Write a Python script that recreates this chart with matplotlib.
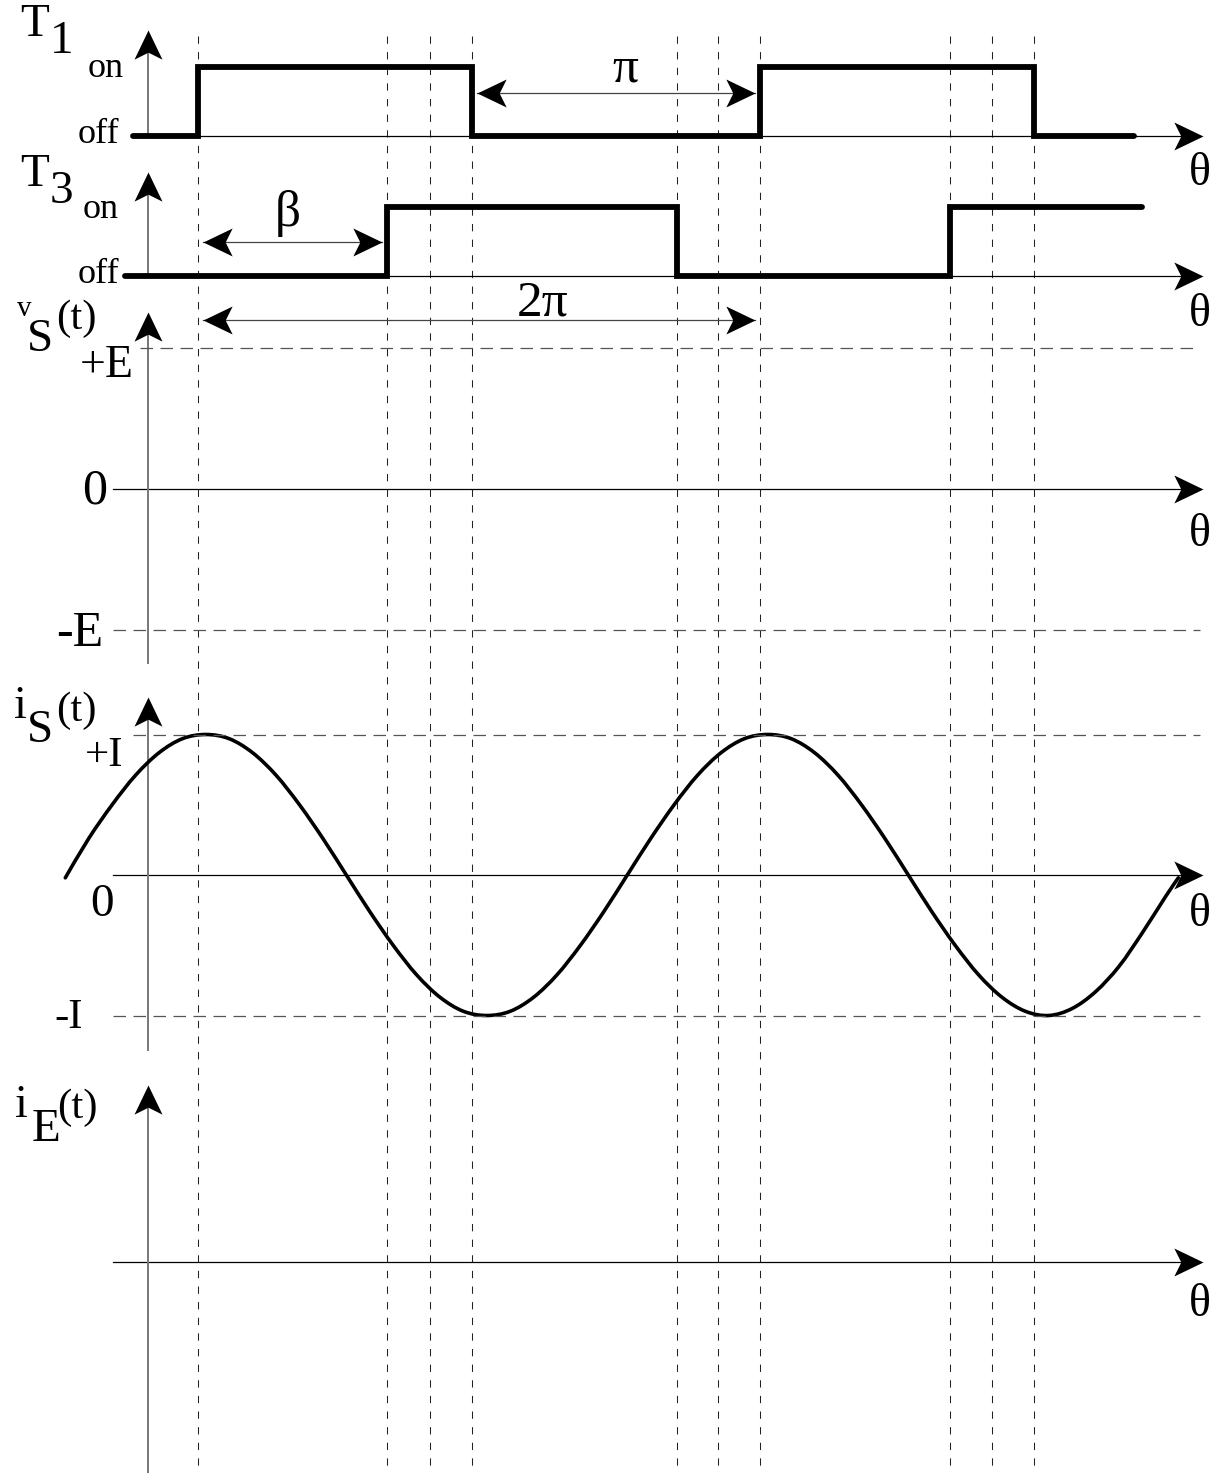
import numpy as np
import matplotlib
matplotlib.use("Agg")
import matplotlib.pyplot as plt
from matplotlib.path import Path
from matplotlib.patches import PathPatch
from matplotlib.markers import MarkerStyle
from matplotlib.transforms import Affine2D

plt.rcParams['font.family'] = ['Liberation Serif', 'DejaVu Serif']

W, H = 1228, 1473
X0 = 198                  # pixel column of theta = 0
PX_DEG = 562 / 360.0      # one period (2 pi) is 562 px wide

# ---- data (angles in degrees) ----
t1_theta = [-41.6, 0, 0, 175.5, 175.5, 360, 360, 535.5, 535.5, 599.6]
t1_state = [0, 0, 1, 1, 0, 0, 1, 1, 0, 0]
t3_theta = [-46.8, 121, 121, 306.8, 306.8, 481.7, 481.7, 604.7]
t3_state = [0, 0, 1, 1, 0, 0, 1, 1]
guides = [0, 121, 148.5, 175.5, 306.8, 333.0, 360, 481.7, 508.6, 535.5]
beta = 121

is_theta = [-85, -70, -55, -40, -25, -10, 5, 20, 35, 50, 65, 80, 95, 110,
            125, 140, 155, 170, 185, 200, 215, 230, 245, 260, 275, 290, 305,
            320, 335, 350, 365, 380, 395, 410, 425, 440, 455, 470, 485, 500,
            515, 530, 545, 560, 575, 590, 605, 620, 628]
is_value = [-0.02, 0.26, 0.50, 0.71, 0.87, 0.97, 1.00, 0.97, 0.87, 0.71, 0.50,
            0.26, 0.00, -0.26, -0.50, -0.71, -0.87, -0.97, -1.00, -0.97, -0.87,
            -0.71, -0.50, -0.26, 0.00, 0.26, 0.50, 0.71, 0.87, 0.97, 1.00, 0.97,
            0.87, 0.71, 0.50, 0.26, 0.00, -0.26, -0.50, -0.71, -0.87, -0.97,
            -1.00, -0.95, -0.83, -0.65, -0.41, -0.15, -0.02]


def deg(px):
    return (px - X0) / PX_DEG


XLIM = (deg(0), deg(W))

fig = plt.figure(figsize=(W / 100, H / 100), dpi=100)
fig.patch.set_facecolor('white')


def overlay(xlim):
    a = fig.add_axes([0, 0, 1, 1])
    a.set_xlim(*xlim)
    a.set_ylim(H, 0)
    a.axis('off')
    a.patch.set_visible(False)
    return a


def panel(top, bot, base, scale):
    a = fig.add_axes([0, 1 - bot / H, 1, (bot - top) / H])
    a.set_xlim(*XLIM)
    a.set_ylim((base - bot) / scale, (base - top) / scale)
    a.axis('off')
    a.patch.set_visible(False)
    return a


def smooth_path(xs, ys):
    # Catmull-Rom through the read points, drawn as cubic Bezier segments
    p = np.column_stack([xs, ys]).astype(float)
    ext = np.vstack([p[0], p, p[-1]])
    verts = [p[0]]
    codes = [Path.MOVETO]
    for i in range(1, len(ext) - 2):
        c1 = ext[i] + (ext[i + 1] - ext[i - 1]) / 6
        c2 = ext[i + 1] - (ext[i + 2] - ext[i]) / 6
        verts += [c1, c2, ext[i + 1]]
        codes += [Path.CURVE4] * 3
    return Path(verts, codes)


ang = overlay(XLIM)       # x in degrees, y in px
pix = overlay((0, W))     # x and y in px

HEAD = Path([(0, 0), (-1, 0.48), (-0.76, 0), (-1, -0.48), (0, 0)],
            [Path.MOVETO, Path.LINETO, Path.LINETO, Path.LINETO, Path.CLOSEPOLY])


def head(ax, x, y, rot):
    m = MarkerStyle(HEAD, transform=Affine2D().rotate_deg(rot))
    ax.plot([x], [y], marker=m, ms=42, color='k', mew=0, clip_on=False)


# vertical guide lines
for g in guides:
    ang.plot([g, g], [36, 1467], color='#222222', lw=0.75,
             ls=(0, (7, 8)), clip_on=False)

# coordinate axes (pixel layout)
axes_y = [136, 276, 489, 875, 1262]
axes_x0 = [133, 125, 113, 113, 113]
v_axes = [(136, 30), (276, 172), (663, 312), (1050, 697), (1473, 1085)]
for y, x0 in zip(axes_y, axes_x0):
    pix.plot([x0, 1195], [y, y], color='k', lw=0.9, clip_on=False)
    head(pix, 1203, y, 0)
for yb, yt in v_axes:
    pix.plot([148, 148], [yb, yt + 8], color='#777777', lw=1.4, clip_on=False)
    head(pix, 148, yt, 90)

# theta labels
for y in [174, 315, 535, 915, 1305]:
    pix.text(1200, y, 'θ', fontsize=33, ha='center', va='center')

# switching states
ax1 = panel(0, 160, 136, 69)
ax1.plot(t1_theta, t1_state, color='k', lw=4.2, solid_capstyle='round',
         solid_joinstyle='miter', clip_on=False)
ax3 = panel(160, 290, 276, 69)
ax3.plot(t3_theta, t3_state, color='k', lw=4.2, solid_capstyle='round',
         solid_joinstyle='miter', clip_on=False)

# v_S levels
axv = panel(290, 680, 489, 141)
axv.plot([deg(140), deg(1200)], [1, 1], color='#555555', lw=0.9,
         ls=(0, (10, 6)), clip_on=False)
axv.plot([deg(113), deg(1200)], [-1, -1], color='#555555', lw=0.9,
         ls=(0, (10, 6)), clip_on=False)

# i_S
axi = panel(680, 1060, 875, 140.5)
axi.plot([deg(133), deg(1200)], [1, 1], color='#555555', lw=0.9,
         ls=(0, (10, 6)), clip_on=False)
axi.plot([deg(113), deg(1200)], [-1, -1], color='#555555', lw=0.9,
         ls=(0, (10, 6)), clip_on=False)
axi.add_patch(PathPatch(smooth_path(is_theta, is_value), facecolor='none',
                        edgecolor='k', lw=2.6, capstyle='round',
                        clip_on=False))

# dimension arrows
inset = 5 / PX_DEG
for a, b, y in [(0, beta, 242), (175.5, 360, 93), (0, 360, 320)]:
    ang.plot([a + inset, b - inset], [y, y], color='#444444', lw=0.9,
             clip_on=False)
    head(ang, a + inset, y, 180)
    head(ang, b - inset, y, 0)
pix.text(625, 82, 'π', fontsize=37, ha='center', va='baseline')
pix.text(288, 226, 'β', fontsize=37, ha='center', va='baseline')
pix.text(543, 315, '2π', fontsize=37, ha='center', va='baseline')

# left labels
fs_big = 34
pix.text(20, 36, 'T', fontsize=fs_big, va='baseline')
pix.text(50, 53, '1', fontsize=fs_big, va='baseline')
pix.text(20, 186, 'T', fontsize=fs_big, va='baseline')
pix.text(50, 203, '3', fontsize=fs_big, va='baseline')
pix.text(124, 77, 'on', fontsize=26, ha='right', va='baseline')
pix.text(119, 143, 'off', fontsize=26, ha='right', va='baseline')
pix.text(119, 218, 'on', fontsize=26, ha='right', va='baseline')
pix.text(119, 283, 'off', fontsize=26, ha='right', va='baseline')

pix.text(17, 316, 'v', fontsize=21, va='baseline')
pix.text(27, 351, 'S', fontsize=fs_big, va='baseline')
pix.text(56, 329, '(t)', fontsize=31, va='baseline')
pix.text(134, 377, '+E', fontsize=33, ha='right', va='baseline')
pix.text(107, 503, '0', fontsize=36, ha='right', va='baseline')
pix.text(103, 646, '-E', fontsize=36, ha='right', va='baseline')

pix.text(14, 718, 'i', fontsize=33, va='baseline')
pix.text(27, 742, 'S', fontsize=fs_big, va='baseline')
pix.text(56, 721, '(t)', fontsize=31, va='baseline')
pix.text(123, 766, '+I', fontsize=31, ha='right', va='baseline')
pix.text(114, 916, '0', fontsize=34, ha='right', va='baseline')
pix.text(83, 1028, '-I', fontsize=31, ha='right', va='baseline')

pix.text(15, 1117, 'i', fontsize=33, va='baseline')
pix.text(32, 1141, 'E', fontsize=fs_big, va='baseline')
pix.text(57, 1118, '(t)', fontsize=31, va='baseline')

fig.savefig('out.png', dpi=100, facecolor='white')
